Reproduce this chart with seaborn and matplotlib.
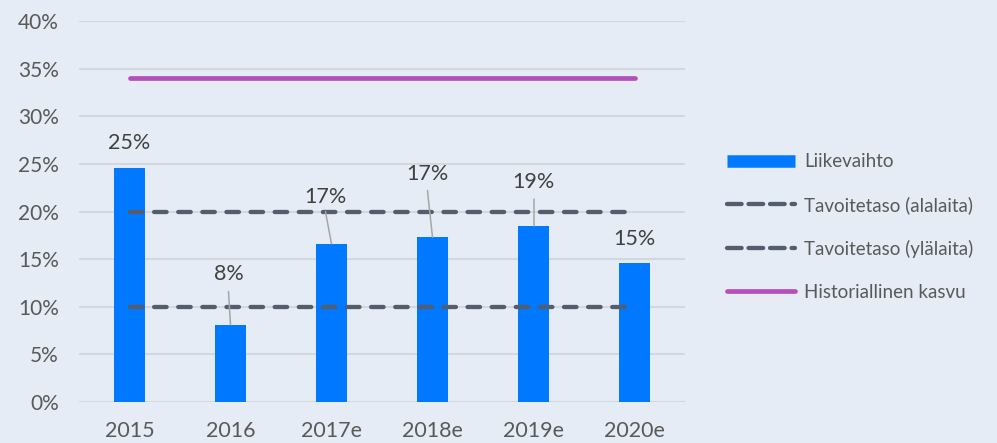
import matplotlib
matplotlib.use("Agg")
import matplotlib.pyplot as plt
from matplotlib.lines import Line2D
import seaborn as sns
import pandas as pd

# ---- data ----
years = ["2015", "2016", "2017e", "2018e", "2019e", "2020e"]
revenue_growth = [24.6, 8.1, 16.6, 17.3, 18.5, 14.6]
bar_labels = ["25%", "8%", "17%", "17%", "19%", "15%"]
target_low = 10
target_high = 20
historical_growth = 34
y_ticks = [0, 5, 10, 15, 20, 25, 30, 35, 40]
series_names = ["Liikevaihto", "Tavoitetaso (alalaita)", "Tavoitetaso (ylälaita)", "Historiallinen kasvu"]

# ---- layout (label placement: x offset, label y, leader start y or None) ----
label_layout = [(0.0, 27.2, None), (-0.02, 13.4, 11.6), (-0.06, 21.5, 20.0),
                (-0.05, 23.9, 22.2), (0.0, 23.1, 21.3), (0.0, 17.1, None)]

BG = "#e6ecf5"
BLUE = "#0078ff"
DASH = "#545d6b"
PURPLE = "#b54fbe"
TXT = "#595959"

sns.set_theme(style="white")
plt.rcParams["font.family"] = ["Lato", "DejaVu Sans"]

fig = plt.figure(figsize=(9.97, 4.43), dpi=100, facecolor=BG)
ax = fig.add_axes([79 / 997, 41 / 443, 606 / 997, 381 / 443])
ax.set_facecolor(BG)

df = pd.DataFrame({"year": years, "growth": revenue_growth})
sns.barplot(data=df, x="year", y="growth", color=BLUE, saturation=1, width=0.31,
            linewidth=0, ax=ax, zorder=2)

n = len(years)
dash_style = (0, (2.9, 2.7))
ax.hlines([target_low, target_high], 0, n - 1, colors=DASH, linewidth=3.1,
          linestyles=[dash_style], capstyle="round", zorder=3)
ax.plot([0, n - 1], [historical_growth, historical_growth], color=PURPLE, lw=3.4,
        solid_capstyle="round", zorder=3)

for i, (v, lab) in enumerate(zip(revenue_growth, bar_labels)):
    dx, ly, lead = label_layout[i]
    ax.text(i + dx, ly, lab, ha="center", va="center", fontsize=15.5, color="#404040", zorder=4)
    if lead is not None:
        ax.plot([i + dx, i], [lead, v], color="#a6a6a6", lw=1.1, zorder=4)

ax.set_xlim(-0.5, n - 0.5)
ax.set_ylim(0, 40)
ax.set_yticks(y_ticks)
ax.set_yticklabels([f"{t}%" for t in y_ticks])
ax.yaxis.grid(True, color="#d3d7de", lw=1.5, zorder=0)
ax.set_axisbelow(True)
for s in ax.spines.values():
    s.set_visible(False)
ax.tick_params(axis="y", length=0, pad=14.5, labelsize=15, labelcolor=TXT)
ax.tick_params(axis="x", length=0, pad=13.5, labelsize=15.5, labelcolor=TXT)
ax.set_xlabel("")
ax.set_ylabel("")

handles = [
    Line2D([0], [0], color=BLUE, lw=9, solid_capstyle="butt"),
    Line2D([0], [0], color=DASH, lw=3.1, linestyle=(0, (3.4, 1.6)), dash_capstyle="round"),
    Line2D([0], [0], color=DASH, lw=3.1, linestyle=(0, (3.4, 1.6)), dash_capstyle="round"),
    Line2D([0], [0], color=PURPLE, lw=3.4, solid_capstyle="round"),
]
leg = fig.legend(handles, series_names, loc="center left", bbox_to_anchor=(727 / 997, 1 - 227 / 443),
                 frameon=False, fontsize=13.5, handlelength=3.65, handletextpad=0.45,
                 labelspacing=1.38, borderpad=0, borderaxespad=0)
for t in leg.get_texts():
    t.set_color(TXT)

fig.savefig("out.png", dpi=100, facecolor=BG)
